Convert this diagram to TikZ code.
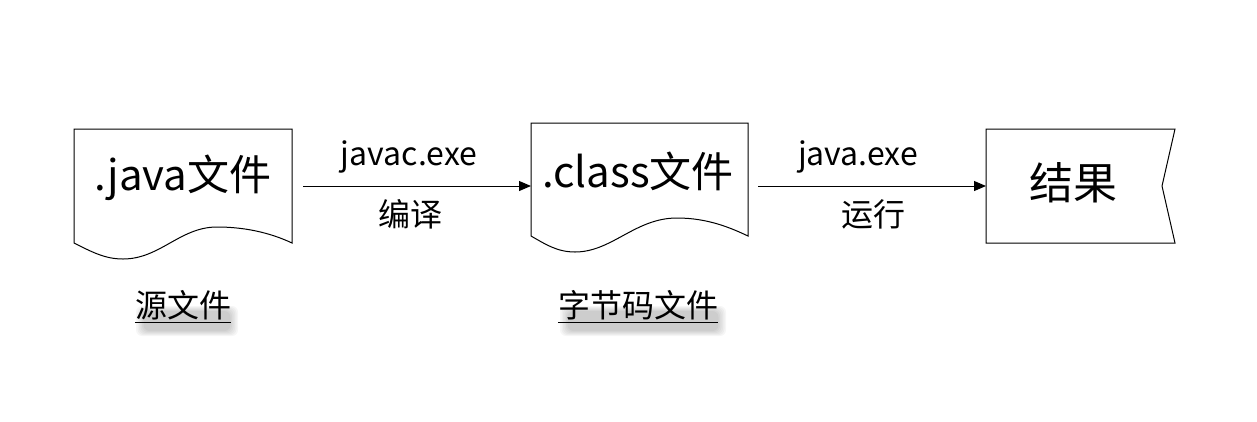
\documentclass[tikz,border=0pt]{standalone}
\usepackage{fontspec}
\setmainfont{Noto Sans CJK SC}
\usetikzlibrary{arrows.meta}
\tikzset{
  shapeline/.style={draw=black, line width=1pt},
  flow/.style={draw=black, line width=1pt, -{Triangle[length=12pt,width=10pt]}},
  boxtext/.style={anchor=base, inner sep=0pt, font=\fontsize{42}{42}\selectfont},
  restext/.style={anchor=base, inner sep=0pt, font=\fontsize{44}{44}\selectfont},
  arrtext/.style={anchor=base, inner sep=0pt, font=\fontsize{32}{32}\selectfont},
  captext/.style={anchor=base, inner sep=0pt, font=\fontsize{32}{32}\selectfont},
  shadowband/.style={fill=black, opacity=0.035, rounded corners=6pt}
}
\begin{document}
\begin{tikzpicture}[x=1pt,y=-1pt]
\useasboundingbox (0,0) rectangle (1257,421);
% document 1
\draw[shapeline] (74,243) -- (74,129) -- (292,129) -- (292,243)
  .. controls (275,235) and (250,227) .. (217,227)
  .. controls (180,227) and (160,259) .. (123,259)
  .. controls (105,259) and (92,252) .. (74,243) -- cycle;
\node[boxtext] (java) at (183,190) {.java文件};
% document 2
\draw[shapeline] (531,236) -- (531,123) -- (748,123) -- (748,236)
  .. controls (731,228) and (708,218) .. (677,218)
  .. controls (635,218) and (612,252) .. (575,252)
  .. controls (557,252) and (545,244) .. (531,236) -- cycle;
\node[boxtext] (class) at (638,187) {.class文件};
% result box
\draw[shapeline] (986,129) -- (1175,129) -- (1162,186) -- (1175,243) -- (986,243) -- cycle;
\node[restext] (res) at (1073,199) {结果};
% arrows
\coordinate (a1s) at (303,186);
\coordinate (a1e) at (531,186);
\coordinate (a2s) at (758,186);
\coordinate (a2e) at (986,186);
\draw[flow] (a1s) -- (a1e);
\draw[flow] (a2s) -- (a2e);
\node[arrtext] (l1a) at (409,165) {javac.exe};
\node[arrtext] (l1b) at (410,226) {编译};
\node[arrtext] (l2a) at (858,165) {java.exe};
\node[arrtext] (l2b) at (873,226) {运行};
% soft shadows below captions
\foreach \xa/\xb in {136/238, 560/726} {
  \foreach \i in {0,1,2,3,4,5} {
    \fill[shadowband] (\xa+\i*1.5, 306+\i) rectangle (\xb-\i*1.5, 336-\i);
  }
}
% captions
\node[captext] (cap1) at (183,317) {源文件};
\node[captext] (cap2) at (638,317) {字节码文件};
\draw[line width=1pt] ([yshift=-5pt]cap1.base west) -- ([yshift=-5pt]cap1.base east);
\draw[line width=1pt] ([yshift=-5pt]cap2.base west) -- ([yshift=-5pt]cap2.base east);
\end{tikzpicture}
\end{document}
